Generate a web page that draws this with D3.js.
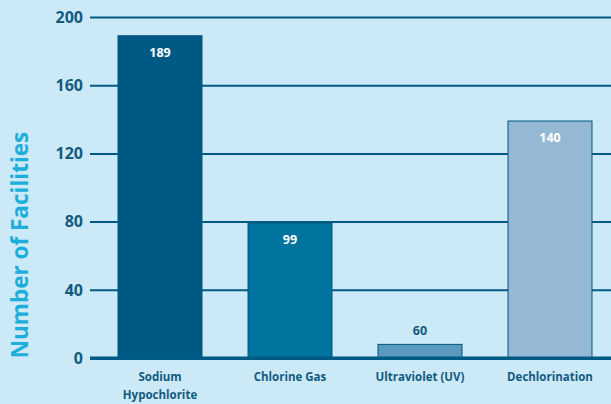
<!DOCTYPE html>
<html>
<head>
<meta charset="utf-8">
<script src="https://cdn.jsdelivr.net/npm/d3@7"></script>
<style>
  body { margin: 0; background: #cbe9f6; }
  svg { display: block; font-family: "Open Sans", sans-serif; }
</style>
</head>
<body>
<div id="chart"></div>
<script>
// values
const categories = ["Sodium Hypochlorite", "Chlorine Gas", "Ultraviolet (UV)", "Dechlorination"];
const barValues = [189, 79, 8, 139];
const barLabels = ["189", "99", "60", "140"];
const barColors = ["#005985", "#00739e", "#5a9abf", "#95b9d5"];
const yTicks = [0, 40, 80, 120, 160, 200];

const width = 611, height = 404;

const svg = d3.select("#chart")
    .append("svg")
    .attr("width", width)
    .attr("height", height);

svg.append("rect")
    .attr("width", width)
    .attr("height", height)
    .attr("fill", "#cbe9f6");

const x = d3.scaleBand()
    .domain(categories)
    .range([95, 615])
    .paddingInner(0.354)
    .paddingOuter(0.177);

const y = d3.scaleLinear()
    .domain([0, 200])
    .range([358, 17]);

// gridlines double as ticks
const yAxis = svg.append("g")
    .attr("transform", "translate(90,0)")
    .call(d3.axisRight(y).tickValues(yTicks).tickSize(width - 90).tickFormat(""));
yAxis.select(".domain").remove();
yAxis.selectAll(".tick line")
    .attr("stroke", "#005a84")
    .attr("stroke-width", d => d === 0 ? 3 : 2);

svg.selectAll(".ytick")
    .data(yTicks)
    .join("text")
    .attr("class", "ytick")
    .attr("x", 83)
    .attr("y", d => y(d))
    .attr("dy", "0.36em")
    .attr("text-anchor", "end")
    .attr("font-size", 16)
    .attr("font-weight", "bold")
    .attr("fill", "#135a80")
    .text(d => d);

// bars
svg.selectAll(".bar")
    .data(categories)
    .join("rect")
    .attr("class", "bar")
    .attr("x", d => x(d))
    .attr("y", (d, i) => y(barValues[i]))
    .attr("width", x.bandwidth())
    .attr("height", (d, i) => y(0) - y(barValues[i]))
    .attr("fill", (d, i) => barColors[i])
    .attr("stroke", "#00557e")
    .attr("stroke-width", 1);

// redraw baseline over bars
svg.append("line")
    .attr("x1", 90).attr("x2", width)
    .attr("y1", y(0)).attr("y2", y(0))
    .attr("stroke", "#005a84")
    .attr("stroke-width", 3);

// value labels: inside for tall bars, above for short ones
svg.selectAll(".val")
    .data(categories)
    .join("text")
    .attr("class", "val")
    .attr("x", d => x(d) + x.bandwidth() / 2)
    .attr("y", (d, i) => barValues[i] > 30 ? y(barValues[i]) + 21 : y(barValues[i]) - 9)
    .attr("text-anchor", "middle")
    .attr("font-size", 12.5)
    .attr("font-weight", "bold")
    .attr("fill", (d, i) => barValues[i] > 30 ? "#ffffff" : "#135a80")
    .text((d, i) => barLabels[i]);

// category labels
const cat = svg.selectAll(".cat")
    .data(categories)
    .join("text")
    .attr("class", "cat")
    .attr("x", d => x(d) + x.bandwidth() / 2)
    .attr("y", 381)
    .attr("text-anchor", "middle")
    .attr("font-size", 11.5)
    .attr("font-weight", "bold")
    .attr("fill", "#135a80");

cat.each(function (d) {
    const words = d === "Sodium Hypochlorite" ? ["Sodium", "Hypochlorite"] : [d];
    d3.select(this).selectAll("tspan")
        .data(words)
        .join("tspan")
        .attr("x", x(d) + x.bandwidth() / 2)
        .attr("dy", (w, i) => i === 0 ? 0 : 18)
        .text(w => w);
});

// y title
svg.append("text")
    .attr("transform", "translate(28,245) rotate(-90)")
    .attr("text-anchor", "middle")
    .attr("font-size", 22.5)
    .attr("font-weight", "bold")
    .attr("fill", "#1eaedb")
    .text("Number of Facilities");
</script>
</body>
</html>
